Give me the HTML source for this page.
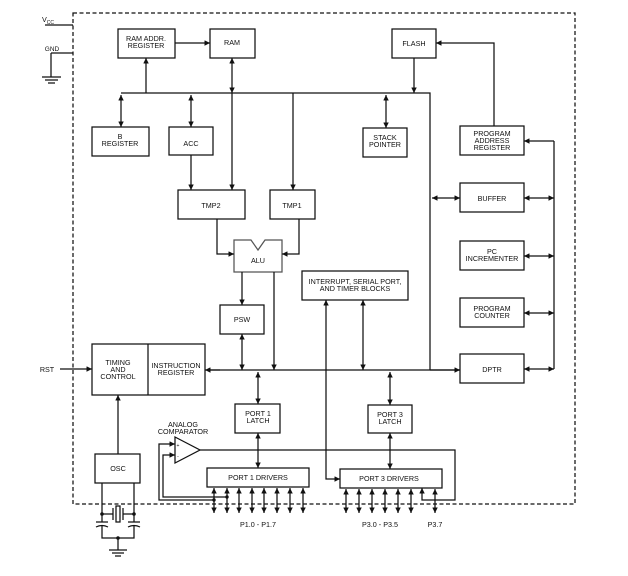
<!DOCTYPE html>
<html><head><style>
html,body{margin:0;padding:0;background:#fff;}
svg{display:block;}
text{font-family:"Liberation Sans",Arial,sans-serif;font-size:7.2px;fill:#111;text-anchor:middle;}
</style></head><body>
<svg width="628" height="576" viewBox="0 0 628 576" xmlns="http://www.w3.org/2000/svg">
<defs>
<marker id="a" viewBox="0 0 10 10" refX="10" refY="5" markerWidth="5.5" markerHeight="5.5" orient="auto-start-reverse" markerUnits="userSpaceOnUse"><path d="M0,0 L10,5 L0,10 z" fill="#111"/></marker>
</defs>
<g stroke="#111" stroke-width="1.25" fill="none">
<rect x="73" y="13" width="502" height="491" stroke-dasharray="4,2.5"/>
<path d="M45,25 H73 M51,53 H73 M51,53 V77 M42,77 H61 M45,80 H58 M48,83 H55"/>
<rect x="118" y="29" width="57" height="29"/>
<rect x="210" y="29" width="45" height="29"/>
<rect x="392" y="29" width="44" height="29"/>
<rect x="92" y="127" width="57" height="29"/>
<rect x="169" y="127" width="44" height="28"/>
<rect x="363" y="128" width="44" height="29"/>
<rect x="460" y="126" width="64" height="29"/>
<rect x="460" y="183" width="64" height="29"/>
<rect x="460" y="241" width="64" height="29"/>
<rect x="460" y="298" width="64" height="29"/>
<rect x="460" y="354" width="64" height="29"/>
<rect x="178" y="190" width="67" height="29"/>
<rect x="270" y="190" width="45" height="29"/>
<path d="M234,240 H251 L258,250 L265,240 H282 V272 H234 Z" stroke="#555"/>
<rect x="302" y="271" width="106" height="29"/>
<rect x="220" y="305" width="44" height="29"/>
<rect x="92" y="344" width="113" height="51"/>
<path d="M148,344 V395"/>
<rect x="95" y="454" width="45" height="29"/>
<rect x="235" y="404" width="45" height="29"/>
<rect x="368" y="405" width="44" height="28"/>
<rect x="207" y="468" width="102" height="19"/>
<rect x="340" y="469" width="102" height="19"/>
<path d="M175,437 L200,450 L175,463 Z"/>
<path d="M121,93 H430 V370 M207,370 H460"/>
<path d="M175,43 H210" marker-end="url(#a)"/>
<path d="M146,93 V58" marker-end="url(#a)"/>
<path d="M232,58 V93" marker-start="url(#a)" marker-end="url(#a)"/>
<path d="M232,93 V190" marker-end="url(#a)"/>
<path d="M293,93 V190" marker-end="url(#a)"/>
<path d="M414,58 V93" marker-end="url(#a)"/>
<path d="M121,95 V127" marker-start="url(#a)" marker-end="url(#a)"/>
<path d="M191,95 V127" marker-start="url(#a)" marker-end="url(#a)"/>
<path d="M386,95 V128" marker-start="url(#a)" marker-end="url(#a)"/>
<path d="M191,155 V190" marker-end="url(#a)"/>
<path d="M494,126 V43 H436" marker-end="url(#a)"/>
<path d="M554,141 H524" marker-end="url(#a)"/>
<path d="M554,141 V369"/>
<path d="M432,198 H460" marker-start="url(#a)" marker-end="url(#a)"/>
<path d="M524,198 H554" marker-start="url(#a)" marker-end="url(#a)"/>
<path d="M524,256 H554" marker-start="url(#a)" marker-end="url(#a)"/>
<path d="M524,313 H554" marker-start="url(#a)" marker-end="url(#a)"/>
<path d="M524,369 H554" marker-start="url(#a)" marker-end="url(#a)"/>
<path d="M430,370 H460" marker-end="url(#a)"/>
<path d="M217,219 V254 H234" marker-end="url(#a)"/>
<path d="M299,219 V254 H282" marker-end="url(#a)"/>
<path d="M242,272 V305" marker-end="url(#a)"/>
<path d="M274,272 V370" marker-end="url(#a)"/>
<path d="M242,334 V370" marker-start="url(#a)" marker-end="url(#a)"/>
<path d="M363,300 V370" marker-start="url(#a)" marker-end="url(#a)"/>
<path d="M326,300 V479 H340" marker-start="url(#a)" marker-end="url(#a)"/>
<path d="M220,370 H205" marker-end="url(#a)"/>
<path d="M60,369 H92" marker-end="url(#a)"/>
<path d="M118,454 V395" marker-end="url(#a)"/>
<path d="M258,372 V404" marker-start="url(#a)" marker-end="url(#a)"/>
<path d="M258,433 V468" marker-start="url(#a)" marker-end="url(#a)"/>
<path d="M390,372 V405" marker-start="url(#a)" marker-end="url(#a)"/>
<path d="M390,433 V469" marker-start="url(#a)" marker-end="url(#a)"/>
<path d="M200,450 H455 V500 H422 V488" marker-end="url(#a)"/>
<path d="M214,500 H159 V444 H175" marker-end="url(#a)"/>
<path d="M227,497 H163 V455 H175" marker-end="url(#a)"/>
<path d="M214,488 V513" marker-start="url(#a)" marker-end="url(#a)"/>
<path d="M227,488 V513" marker-start="url(#a)" marker-end="url(#a)"/>
<path d="M239,488 V513" marker-start="url(#a)" marker-end="url(#a)"/>
<path d="M252,488 V513" marker-start="url(#a)" marker-end="url(#a)"/>
<path d="M264,488 V513" marker-start="url(#a)" marker-end="url(#a)"/>
<path d="M277,488 V513" marker-start="url(#a)" marker-end="url(#a)"/>
<path d="M290,488 V513" marker-start="url(#a)" marker-end="url(#a)"/>
<path d="M303,488 V513" marker-start="url(#a)" marker-end="url(#a)"/>
<path d="M346,489 V513" marker-start="url(#a)" marker-end="url(#a)"/>
<path d="M359,489 V513" marker-start="url(#a)" marker-end="url(#a)"/>
<path d="M372,489 V513" marker-start="url(#a)" marker-end="url(#a)"/>
<path d="M385,489 V513" marker-start="url(#a)" marker-end="url(#a)"/>
<path d="M398,489 V513" marker-start="url(#a)" marker-end="url(#a)"/>
<path d="M411,489 V513" marker-start="url(#a)" marker-end="url(#a)"/>
<path d="M435,489 V513" marker-start="url(#a)" marker-end="url(#a)"/>
<path d="M102,483 V522 M134,483 V522 M102,514 H113 M134,514 H123 M113,508 V520 M123,508 V520"/>
<rect x="116" y="506" width="4" height="16"/>
<path d="M96,522 H108 M128,522 H140 M96,527 Q102,524 108,527 M128,527 Q134,524 140,527"/>
<path d="M102,525 V538 H134 V525 M118,538 V550 M109,550 H127 M112,553 H124 M115,556 H121"/>
</g>
<g fill="#111">
<circle cx="102" cy="514" r="1.8"/><circle cx="134" cy="514" r="1.8"/><circle cx="118" cy="538" r="1.8"/>
<circle cx="214" cy="500" r="1.7"/><circle cx="227" cy="497" r="1.7"/>
</g>
<text x="48" y="22">V<tspan font-size="5" dy="2">CC</tspan></text>
<text x="52" y="51" style="font-size:6.5px">GND</text>
<text x="146" y="41">RAM ADDR.</text><text x="146" y="48">REGISTER</text>
<text x="232" y="45">RAM</text>
<text x="414" y="46">FLASH</text>
<text x="120" y="139">B</text><text x="120" y="146">REGISTER</text>
<text x="191" y="146">ACC</text>
<text x="385" y="140">STACK</text><text x="385" y="147">POINTER</text>
<text x="492" y="136">PROGRAM</text><text x="492" y="143">ADDRESS</text><text x="492" y="150">REGISTER</text>
<text x="492" y="201">BUFFER</text>
<text x="492" y="254">PC</text><text x="492" y="261">INCREMENTER</text>
<text x="492" y="311">PROGRAM</text><text x="492" y="318">COUNTER</text>
<text x="492" y="372">DPTR</text>
<text x="211" y="208">TMP2</text>
<text x="292" y="208">TMP1</text>
<text x="258" y="263">ALU</text>
<text x="355" y="284">INTERRUPT, SERIAL PORT,</text><text x="355" y="291">AND TIMER BLOCKS</text>
<text x="242" y="322">PSW</text>
<text x="118" y="365">TIMING</text><text x="118" y="372">AND</text><text x="118" y="379">CONTROL</text>
<text x="176" y="368">INSTRUCTION</text><text x="176" y="375">REGISTER</text>
<text x="47" y="372">RST</text>
<text x="118" y="471">OSC</text>
<text x="258" y="416">PORT 1</text><text x="258" y="423">LATCH</text>
<text x="390" y="417">PORT 3</text><text x="390" y="424">LATCH</text>
<text x="183" y="427">ANALOG</text><text x="183" y="434">COMPARATOR</text>
<text x="178" y="447" style="font-size:5px">+</text><text x="178" y="458" style="font-size:5px">-</text>
<text x="258" y="480">PORT 1 DRIVERS</text>
<text x="389" y="481">PORT 3 DRIVERS</text>
<text x="258" y="527">P1.0 - P1.7</text>
<text x="380" y="527">P3.0 - P3.5</text>
<text x="435" y="527">P3.7</text>
</svg>
</body></html>
